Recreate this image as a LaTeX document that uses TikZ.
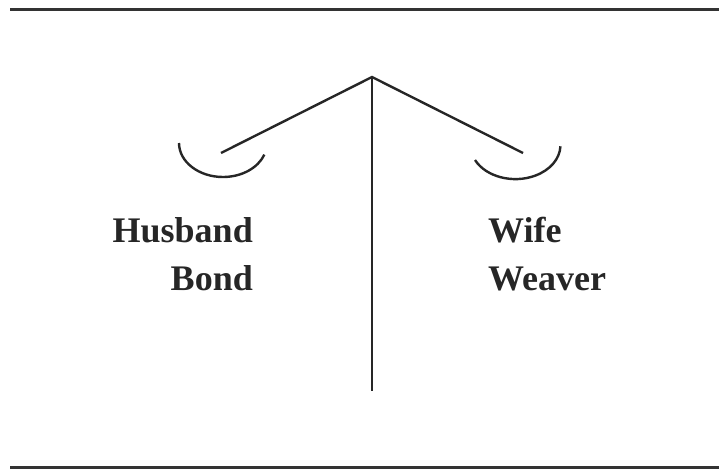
\documentclass[tikz,border=0pt]{standalone}
\usepackage{fontspec}
\setmainfont{Liberation Serif}
\begin{document}
\begin{tikzpicture}[x=1pt,y=-1pt,
  rule/.style={line width=3pt,draw=black!80},
  beam/.style={line width=2.4pt,draw=black!85},
  lbl/.style={font=\bfseries\fontsize{36}{40}\selectfont,inner sep=0pt,text=black!85}]
\useasboundingbox (0,0) rectangle (719,471);
% horizontal rules
\coordinate (tl) at (10,9); \coordinate (tr) at (719,9);
\coordinate (bl) at (10,467); \coordinate (br) at (719,467);
\draw[rule] (tl) -- (tr);
\draw[rule] (bl) -- (br);
% scale
\coordinate (apex) at (372,77);
\coordinate (foot) at (372,391);
\coordinate (larm) at (221,153);
\coordinate (rarm) at (523,153);
\draw[beam] (apex) -- (foot);
\draw[beam] (larm) -- (apex) -- (rarm);
% pans
\coordinate (lpan) at (179,143);
\coordinate (rpan) at (475,160);
\draw[beam] (lpan) arc[start angle=180,end angle=340,x radius=44,y radius=-34];
\draw[beam] (rpan) arc[start angle=206,end angle=358,x radius=45,y radius=-34];
% labels
\node[lbl,anchor=base east] (husband) at (253,242) {Husband};
\node[lbl,anchor=base east] (bond) at (253,290) {Bond};
\node[lbl,anchor=base west] (wife) at (488,242) {Wife};
\node[lbl,anchor=base west] (weaver) at (488,290) {Weaver};
\end{tikzpicture}
\end{document}
